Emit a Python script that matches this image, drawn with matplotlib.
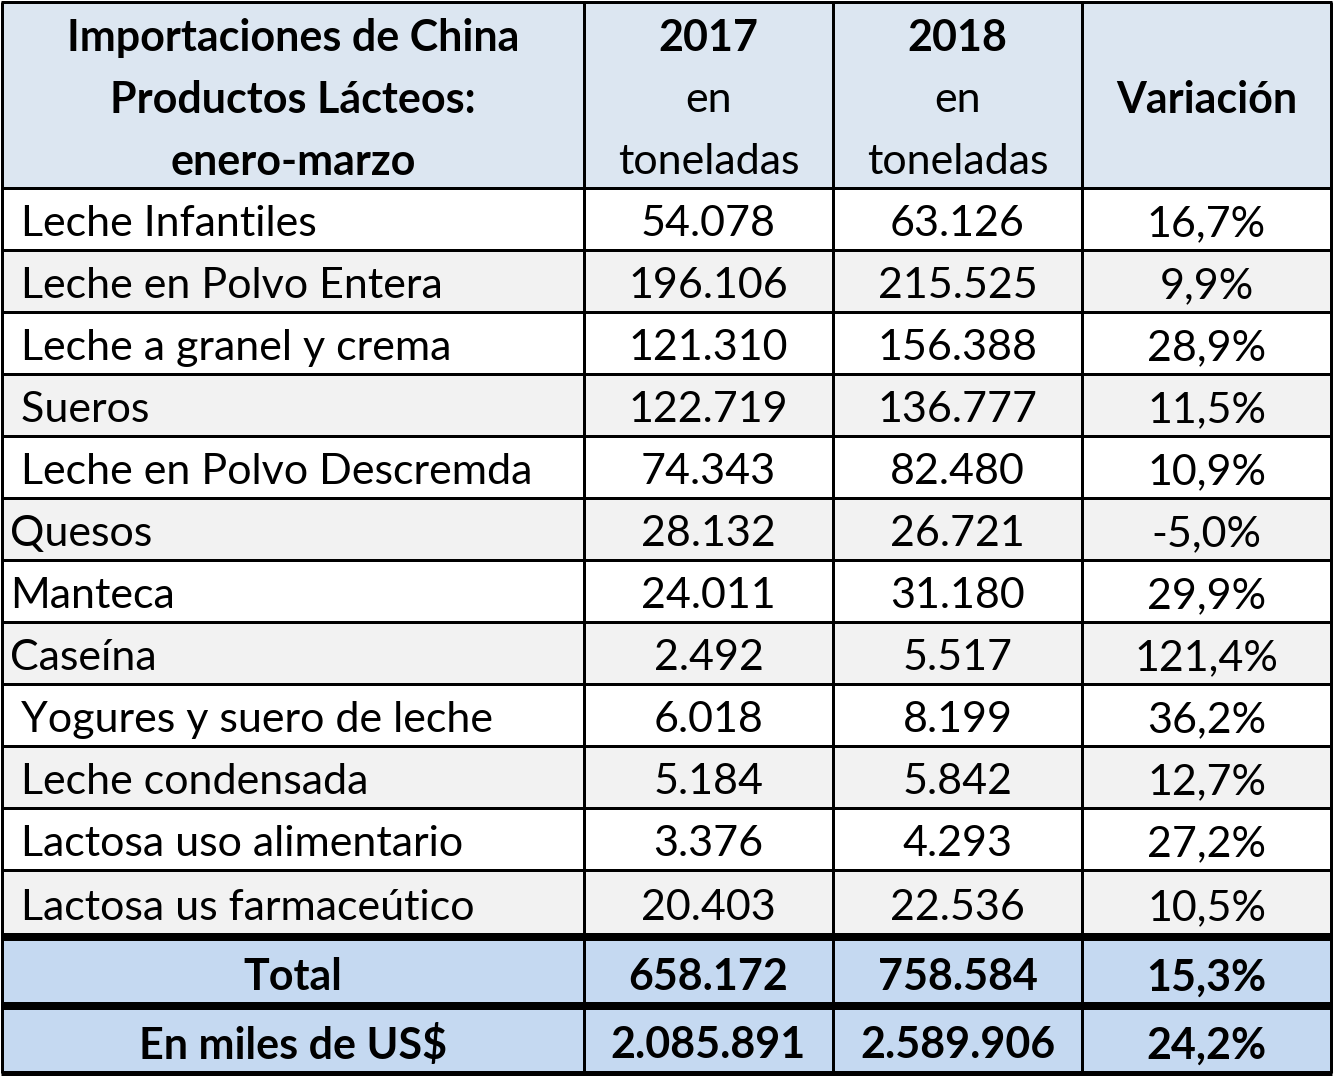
import matplotlib.pyplot as plt
from matplotlib.patches import Rectangle

# table content
header_left = ["Importaciones de China", "Productos Lácteos:", "enero-marzo"]
years = ["2017", "2018"]
products = [" Leche Infantiles", " Leche en Polvo Entera", " Leche a granel y crema", " Sueros",
            " Leche en Polvo Descremda", "Quesos", "Manteca", "Caseína",
            " Yogures y suero de leche", " Leche condensada", " Lactosa uso alimentario",
            " Lactosa us farmaceútico"]
t2017 = [54078, 196106, 121310, 122719, 74343, 28132, 24011, 2492, 6018, 5184, 3376, 20403]
t2018 = [63126, 215525, 156388, 136777, 82480, 26721, 31180, 5517, 8199, 5842, 4293, 22536]
variacion = [16.7, 9.9, 28.9, 11.5, 10.9, -5.0, 29.9, 121.4, 36.2, 12.7, 27.2, 10.5]
total_label = "Total"
total = [658172, 758584, 15.3]
usd_label = "En miles de US$"
usd = [2085891, 2589906, 24.2]


def miles(v):
    return f"{v:,}".replace(",", ".")


def pct(v):
    return f"{v:.1f}%".replace(".", ",")


W, H = 1334, 1078
fig = plt.figure(figsize=(W / 100, H / 100), dpi=100)
ax = fig.add_axes([0, 0, 1, 1])
ax.set_xlim(0, W)
ax.set_ylim(H, 0)
ax.axis('off')

plt.rcParams['font.family'] = ['Lato', 'DejaVu Sans']
fs = 31

col_x = [2, 584, 833, 1082, 1331]
row_y = [2, 188] + [188 + 62 * (i + 1) for i in range(11)] + [937, 1006, 1073]

head_bg = '#DCE6F1'
alt_bg = '#F2F2F2'
tot_bg = '#C5D9F1'

# backgrounds
ax.add_patch(Rectangle((col_x[0], row_y[0]), col_x[-1] - col_x[0], row_y[1] - row_y[0],
                       color=head_bg, zorder=0))
for i in range(len(products)):
    c = 'white' if i % 2 == 0 else alt_bg
    ax.add_patch(Rectangle((col_x[0], row_y[i + 1]), col_x[-1] - col_x[0],
                           row_y[i + 2] - row_y[i + 1], color=c, zorder=0))
for k in (13, 14):
    ax.add_patch(Rectangle((col_x[0], row_y[k]), col_x[-1] - col_x[0],
                           row_y[k + 1] - row_y[k], color=tot_bg, zorder=0))

# grid lines
thin = 3 * 0.72
thick = 8 * 0.72
for j, y in enumerate(row_y):
    lw = thick if j in (13, 14) else thin
    if j == len(row_y) - 1:
        lw = 5 * 0.72
    ax.plot([col_x[0] - 1, col_x[-1] + 1], [y, y], color='black', lw=lw, solid_capstyle='butt')
for x in col_x:
    ax.plot([x, x], [row_y[0], row_y[-1]], color='black', lw=thin, solid_capstyle='butt')

# header text
hy = [38, 100, 162]
cx = [(col_x[i] + col_x[i + 1]) / 2 for i in range(4)]
for t, y in zip(header_left, hy):
    ax.text(cx[0], y, t, ha='center', va='center', fontsize=fs, fontweight='bold')
for k, yr in enumerate(years):
    ax.text(cx[1 + k], hy[0], yr, ha='center', va='center', fontsize=fs, fontweight='bold')
    ax.text(cx[1 + k], hy[1], "en", ha='center', va='center', fontsize=fs)
    ax.text(cx[1 + k], hy[2], "toneladas", ha='center', va='center', fontsize=fs)
ax.text(cx[3], hy[1], "Variación", ha='center', va='center', fontsize=fs, fontweight='bold')

# body
for i, p in enumerate(products):
    y = (row_y[i + 1] + row_y[i + 2]) / 2 + 5
    ax.text(10, y, p, ha='left', va='center', fontsize=fs)
    ax.text(cx[1], y, miles(t2017[i]), ha='center', va='center', fontsize=fs)
    ax.text(cx[2], y, miles(t2018[i]), ha='center', va='center', fontsize=fs)
    ax.text(cx[3], y, pct(variacion[i]), ha='center', va='center', fontsize=fs)

for k, (lab, vals) in zip((13, 14), ((total_label, total), (usd_label, usd))):
    y = (row_y[k] + row_y[k + 1]) / 2 + 6
    ax.text(cx[0], y, lab, ha='center', va='center', fontsize=fs, fontweight='bold')
    ax.text(cx[1], y, miles(vals[0]), ha='center', va='center', fontsize=fs, fontweight='bold')
    ax.text(cx[2], y, miles(vals[1]), ha='center', va='center', fontsize=fs, fontweight='bold')
    ax.text(cx[3], y, pct(vals[2]), ha='center', va='center', fontsize=fs, fontweight='bold')

plt.savefig('out.png', dpi=100)
